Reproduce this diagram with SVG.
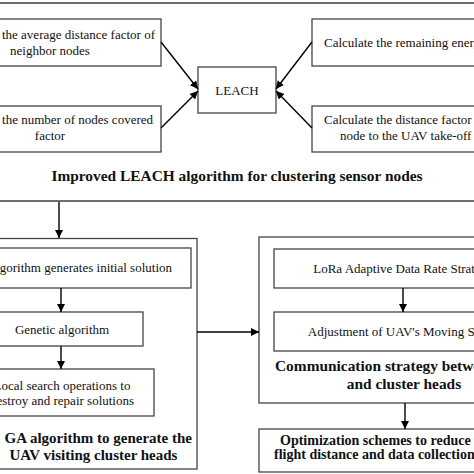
<svg xmlns="http://www.w3.org/2000/svg" width="474" height="474" viewBox="0 0 474 474">
<defs>
<marker id="ah" viewBox="0 0 10 10" refX="10" refY="5" markerWidth="8" markerHeight="8" markerUnits="userSpaceOnUse" orient="auto">
<path d="M0,0 L10,5 L0,10 Z" fill="#000"/>
</marker>
<style>
.box{fill:#fff;stroke:#444;stroke-width:1.3}
.frame{fill:none;stroke:#444;stroke-width:1.3}
.sep{stroke:#6e6e6e;stroke-width:2.2}
.t{font-family:"Liberation Serif","Times New Roman",serif;font-size:13px;fill:#111}
.b{font-family:"Liberation Serif","Times New Roman",serif;font-weight:bold;fill:#111}
.c{stroke:#000;stroke-width:1.4;fill:none;marker-end:url(#ah)}
</style>
</defs>
<rect width="474" height="474" fill="#fff"/>
<g id="frame-top">
<line class="sep" x1="0" y1="3" x2="474" y2="3"/>
<line class="sep" x1="0" y1="201" x2="474" y2="201"/>
<text class="b" x="237" y="181" font-size="15.4" text-anchor="middle">Improved LEACH algorithm for clustering sensor nodes</text>
</g>
<g id="n-avg">
<rect class="box" x="-70" y="19" width="231" height="47"/>
<text class="t" x="155" y="39" text-anchor="end">the average distance factor of</text>
<text class="t" x="50" y="55" text-anchor="middle">neighbor nodes</text>
</g>
<g id="n-cover">
<rect class="box" x="-70" y="106" width="231" height="46"/>
<text class="t" x="153" y="124" text-anchor="end">the number of nodes covered</text>
<text class="t" x="50" y="140" text-anchor="middle">factor</text>
</g>
<g id="n-leach">
<rect class="box" x="198" y="67" width="78" height="46"/>
<text class="t" x="237" y="95" font-size="15" text-anchor="middle">LEACH</text>
</g>
<g id="n-energy">
<rect class="box" x="312" y="19" width="200" height="47"/>
<text class="t" x="324" y="47">Calculate the remaining energy</text>
</g>
<g id="n-dist">
<rect class="box" x="312" y="106" width="200" height="46"/>
<text class="t" x="324" y="124">Calculate the distance factor</text>
<text class="t" x="340" y="140">node to the UAV take-off</text>
</g>
<g id="n-ga">
<rect class="frame" x="-10" y="238.5" width="207" height="230.5"/>
<text class="b" x="192" y="443" font-size="15" text-anchor="end">GA algorithm to generate the</text>
<text class="b" x="93.5" y="460" font-size="15" text-anchor="middle">UAV visiting cluster heads</text>
</g>
<g id="n-init">
<rect class="box" x="-67" y="248" width="258" height="40"/>
<text class="t" x="172" y="272" text-anchor="end">algorithm generates initial solution</text>
</g>
<g id="n-genetic">
<rect class="box" x="-19" y="312" width="162" height="34"/>
<text class="t" x="62" y="334" text-anchor="middle">Genetic algorithm</text>
</g>
<g id="n-local">
<rect class="box" x="-30" y="369" width="184" height="47"/>
<text class="t" x="62" y="389.5" text-anchor="middle">Local search operations to</text>
<text class="t" x="62" y="405" text-anchor="middle">destroy and repair solutions</text>
</g>
<g id="n-comm">
<rect class="frame" x="259" y="237" width="230" height="166"/>
<text class="b" x="275" y="371" font-size="15.4">Communication strategy between</text>
<text class="b" x="404" y="389" font-size="15.4" text-anchor="middle">and cluster heads</text>
</g>
<g id="n-lora">
<rect class="box" x="274" y="249" width="210" height="39"/>
<text class="t" x="403.5" y="273" text-anchor="middle">LoRa Adaptive Data Rate Strategy</text>
</g>
<g id="n-speed">
<rect class="box" x="274" y="312" width="210" height="39"/>
<text class="t" x="403.5" y="336" text-anchor="middle">Adjustment of UAV's Moving Speed</text>
</g>
<g id="n-opt">
<rect class="box" x="259" y="429" width="230" height="43"/>
<text class="b" x="280" y="445" font-size="14">Optimization schemes to reduce</text>
<text class="b" x="274" y="459" font-size="14">flight distance and data collection</text>
</g>
<g id="connectors">
<line class="c" x1="161" y1="42" x2="198" y2="89"/>
<line class="c" x1="161" y1="128" x2="198" y2="91"/>
<line class="c" x1="312" y1="42" x2="276" y2="89"/>
<line class="c" x1="312" y1="128" x2="276" y2="91"/>
<line class="c" x1="59" y1="202" x2="59" y2="238"/>
<line class="c" x1="61" y1="288" x2="61" y2="312"/>
<line class="c" x1="61" y1="346" x2="61" y2="369"/>
<line class="c" x1="197" y1="332" x2="259" y2="332"/>
<line class="c" x1="403" y1="288" x2="403" y2="312"/>
<line class="c" x1="405" y1="403" x2="405" y2="429"/>
</g>
</svg>
